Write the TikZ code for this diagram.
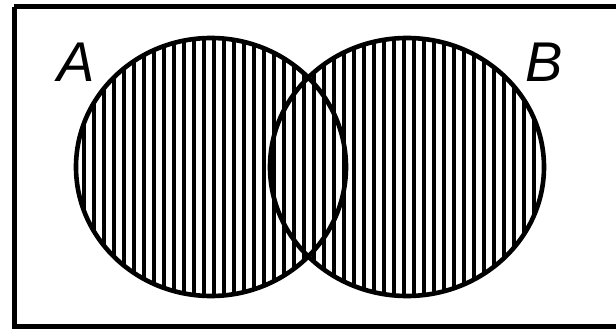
\documentclass[tikz,border=0pt]{standalone}
\usepackage{fontspec}
\setmainfont{Liberation Sans}
\begin{document}
\begin{tikzpicture}[x=1pt,y=-1pt,
  frame/.style={line width=5pt},
  setline/.style={line width=4.6pt},
  stripe/.style={line width=4.6pt},
  lbl/.style={font=\fontsize{56}{56}\selectfont\itshape, inner sep=0pt}]
\useasboundingbox (0,0) rectangle (616,329);
\draw[frame] (14,7) -- (622,7) (14,7) -- (14,326) -- (622,326);
\begin{scope}
  \clip (211,167) ellipse [x radius=135, y radius=129]
        (407,167) ellipse [x radius=137, y radius=129];
  \foreach \i in {5,...,56} {
    \draw[stripe] (\i*10+4,30) -- (\i*10+4,305);
  }
\end{scope}
\draw[setline] (211,167) ellipse [x radius=135, y radius=129];
\draw[setline] (407,167) ellipse [x radius=137, y radius=129];
\node[lbl] (a) at (76,62) {A};
\node[lbl] (b) at (544,62) {B};
\end{tikzpicture}
\end{document}
